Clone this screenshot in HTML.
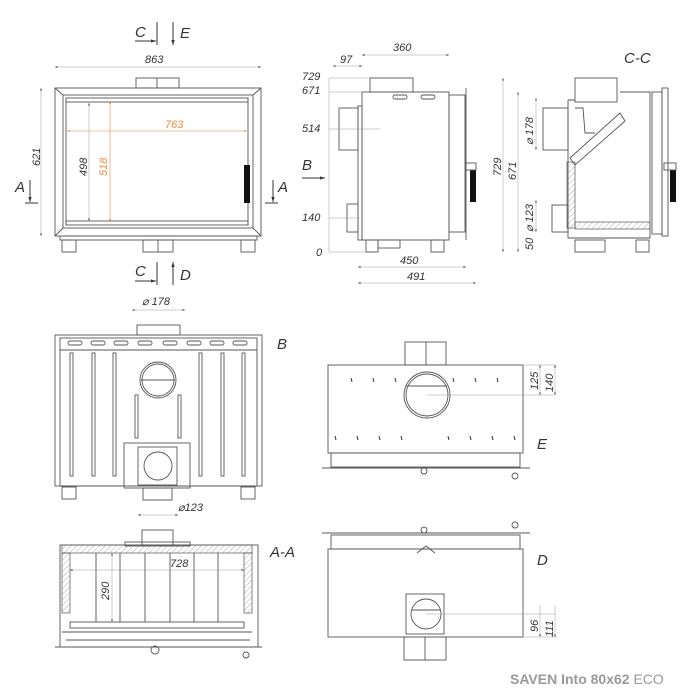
<!DOCTYPE html>
<html><head><meta charset="utf-8"><style>
html,body{margin:0;padding:0;background:#fff}
svg{display:block}
text{font-family:"Liberation Sans",sans-serif;font-style:italic;font-size:11px;fill:#333}
.l{fill:none;stroke:#555;stroke-width:.9}
.t{fill:none;stroke:#999;stroke-width:.5}
.o{fill:none;stroke:#f08a3c;stroke-width:.6}
.h{fill:url(#hat);stroke:#555;stroke-width:.7}
.big{font-size:15px}
</style></head><body>
<svg width="700" height="700" viewBox="0 0 700 700">
<defs>
<pattern id="hat" width="4" height="4" patternUnits="userSpaceOnUse" patternTransform="rotate(45)"><line x1="0" y1="0" x2="0" y2="4" stroke="#777" stroke-width=".6"/></pattern>
<marker id="a" viewBox="0 0 6 6" refX="6" refY="3" markerWidth="5" markerHeight="5" orient="auto-start-reverse"><path d="M0,1 L6,3 L0,5z" fill="#333"/></marker>
<marker id="ao" viewBox="0 0 6 6" refX="6" refY="3" markerWidth="5" markerHeight="5" orient="auto-start-reverse"><path d="M0,1 L6,3 L0,5z" fill="#f08a3c"/></marker>
</defs>

<!-- FRONT VIEW -->
<line class="t" x1="55" y1="67" x2="261" y2="67" marker-start="url(#a)" marker-end="url(#a)"/>
<text x="145" y="63">863</text>
<rect class="l" x="136" y="78" width="43" height="10"/><line class="l" x1="157" y1="78" x2="157" y2="88"/>
<rect class="l" x="55" y="88" width="206" height="148"/>
<rect class="l" x="63" y="95" width="190" height="133"/>
<line class="l" x1="55" y1="88" x2="63" y2="95"/><line class="l" x1="261" y1="88" x2="253" y2="95"/>
<line class="l" x1="55" y1="236" x2="63" y2="228"/><line class="l" x1="261" y1="236" x2="253" y2="228"/>
<rect class="l" x="66" y="98" width="182" height="4"/>
<rect class="l" x="66" y="221" width="182" height="4"/>
<line class="l" x1="66" y1="98" x2="66" y2="225"/><line class="l" x1="248" y1="98" x2="248" y2="225"/>
<rect x="244" y="165" width="6" height="38" fill="#111"/>
<rect class="l" x="60" y="236" width="197" height="4"/>
<rect class="l" x="62" y="240" width="14" height="12"/><rect class="l" x="241" y="240" width="14" height="12"/>
<rect class="l" x="143" y="240" width="30" height="12"/><line class="l" x1="158" y1="240" x2="158" y2="252"/>
<line class="t" x1="41" y1="88" x2="41" y2="236" marker-start="url(#a)" marker-end="url(#a)"/>
<text transform="translate(40,166) rotate(-90)">621</text>
<line class="t" x1="89" y1="103" x2="89" y2="221" marker-start="url(#a)" marker-end="url(#a)"/>
<text transform="translate(87,176) rotate(-90)">498</text>
<line class="o" x1="110" y1="101" x2="110" y2="222" marker-start="url(#ao)" marker-end="url(#ao)"/>
<text transform="translate(107,176) rotate(-90)" style="fill:#f08a3c">518</text>
<line class="o" x1="67" y1="131" x2="247" y2="131" marker-start="url(#ao)" marker-end="url(#ao)"/>
<text x="165" y="128" style="fill:#f08a3c">763</text>
<text x="15" y="192" class="big">A</text><line x1="25" y1="203" x2="38" y2="203" stroke="#333"/><line x1="30" y1="180" x2="30" y2="202" stroke="#333" marker-end="url(#a)"/>
<text x="278" y="192" class="big">A</text><line x1="265" y1="203" x2="278" y2="203" stroke="#333"/><line x1="273" y1="180" x2="273" y2="202" stroke="#333" marker-end="url(#a)"/>
<text x="135" y="37" class="big">C</text><line x1="157" y1="22" x2="157" y2="45" stroke="#333"/><line x1="135" y1="41" x2="156" y2="41" stroke="#333" marker-end="url(#a)"/>
<line x1="173" y1="22" x2="173" y2="45" stroke="#333" marker-end="url(#a)"/><text x="180" y="38" class="big">E</text>
<text x="135" y="276" class="big">C</text><line x1="157" y1="262" x2="157" y2="285" stroke="#333"/><line x1="135" y1="281" x2="156" y2="281" stroke="#333" marker-end="url(#a)"/>
<line x1="173" y1="285" x2="173" y2="262" stroke="#333" marker-end="url(#a)"/><text x="180" y="280" class="big">D</text>

<!-- SIDE VIEW -->
<line class="t" x1="362" y1="55" x2="449" y2="55" marker-start="url(#a)" marker-end="url(#a)"/><text x="393" y="51">360</text>
<line class="t" x1="333" y1="66" x2="362" y2="66" marker-start="url(#a)" marker-end="url(#a)"/><text x="340" y="63">97</text>
<rect class="l" x="370" y="78" width="43" height="14"/>
<rect class="l" x="362" y="92" width="87" height="148"/>
<rect class="l" x="358" y="106" width="4" height="134"/>
<rect class="l" x="449" y="95" width="16" height="137"/>
<line class="l" x1="466" y1="88" x2="466" y2="240"/>
<rect class="l" x="339" y="108" width="19" height="42"/>
<rect class="l" x="347" y="204" width="11" height="28"/>
<rect class="l" x="366" y="240" width="12" height="12"/><rect class="l" x="378" y="240" width="22" height="8"/><rect class="l" x="431" y="240" width="13" height="12"/>
<rect class="l" x="393" y="95" width="14" height="4" rx="2"/><rect class="l" x="421" y="95" width="14" height="4" rx="2"/>
<rect x="470" y="170" width="6" height="32" fill="#111"/><rect class="l" x="466" y="163" width="10" height="7"/>
<line class="t" x1="329" y1="78" x2="329" y2="252"/>
<g class="t"><line x1="329" y1="78" x2="370" y2="78"/><line x1="329" y1="92" x2="362" y2="92"/><line x1="329" y1="129" x2="380" y2="129"/><line x1="329" y1="218" x2="360" y2="218"/><line x1="329" y1="252" x2="366" y2="252"/></g>
<text x="302" y="80">729</text><text x="302" y="94">671</text><text x="302" y="132">514</text><text x="302" y="221">140</text><text x="316" y="256">0</text>
<text x="302" y="170" class="big">B</text><line x1="302" y1="178" x2="325" y2="178" stroke="#333" marker-end="url(#a)"/>
<line class="t" x1="358" y1="267" x2="466" y2="267" marker-start="url(#a)" marker-end="url(#a)"/><text x="400" y="264">450</text>
<line class="t" x1="358" y1="283" x2="476" y2="283" marker-start="url(#a)" marker-end="url(#a)"/><text x="407" y="280">491</text>

<!-- C-C -->
<text x="624" y="63" class="big">C-C</text>
<rect class="l" x="575" y="78" width="42" height="24"/>
<path class="l" d="M568,100 L568,238 L650,238 L650,92 L620,92 M568,100 L575,100"/>
<rect class="l" x="543" y="108" width="25" height="42"/>
<rect class="l" x="552" y="205" width="16" height="27"/>
<rect class="h" x="567" y="162" width="8" height="66"/>
<rect class="h" x="575" y="222" width="75" height="7"/>
<path class="l" d="M570,158 L620,113 L625,121 L575,165z"/>
<path class="l" d="M575,108 L583,108 L585,133 L595,133" />
<rect class="l" x="652" y="92" width="10" height="142"/><rect class="l" x="662" y="88" width="6" height="148"/>
<rect x="670" y="170" width="6" height="32" fill="#111"/><rect class="l" x="664" y="163" width="12" height="7"/>
<rect class="l" x="575" y="240" width="30" height="12"/><rect class="l" x="636" y="240" width="13" height="12"/>
<line class="t" x1="503" y1="78" x2="503" y2="252" marker-start="url(#a)" marker-end="url(#a)"/><text transform="translate(501,176) rotate(-90)">729</text>
<line class="t" x1="518" y1="92" x2="518" y2="252" marker-start="url(#a)" marker-end="url(#a)"/><text transform="translate(516,180) rotate(-90)">671</text>
<line class="t" x1="536" y1="98" x2="536" y2="150" marker-start="url(#a)" marker-end="url(#a)"/><text transform="translate(533,145) rotate(-90)">⌀ 178</text>
<line class="t" x1="536" y1="200" x2="536" y2="232" marker-start="url(#a)" marker-end="url(#a)"/><text transform="translate(533,232) rotate(-90)">⌀ 123</text>
<text transform="translate(533,250) rotate(-90)">50</text>

<!-- B VIEW -->
<line class="t" x1="132" y1="310" x2="185" y2="310" marker-start="url(#a)" marker-end="url(#a)"/><text x="142" y="305">⌀ 178</text>
<rect class="l" x="137" y="325" width="43" height="10"/>
<rect class="l" x="55" y="335" width="207" height="151"/><rect class="l" x="60" y="338" width="197" height="148"/>
<line class="l" x1="60" y1="350" x2="257" y2="350"/>
<g class="l"><rect x="68" y="341" width="14" height="4" rx="2"/><rect x="91" y="341" width="14" height="4" rx="2"/><rect x="114" y="341" width="14" height="4" rx="2"/><rect x="138" y="341" width="14" height="4" rx="2"/><rect x="163" y="341" width="14" height="4" rx="2"/><rect x="187" y="341" width="14" height="4" rx="2"/><rect x="210" y="341" width="14" height="4" rx="2"/><rect x="233" y="341" width="14" height="4" rx="2"/>
<rect x="70" y="353" width="3" height="123"/><rect x="92" y="353" width="3" height="123"/><rect x="113" y="353" width="3" height="123"/><rect x="199" y="353" width="3" height="123"/><rect x="221" y="353" width="3" height="123"/><rect x="242" y="353" width="3" height="123"/>
<rect x="135" y="395" width="3" height="43"/><rect x="178" y="395" width="3" height="43"/>
<circle cx="158" cy="380" r="18"/><circle cx="158" cy="380" r="16"/><line x1="141" y1="380" x2="175" y2="380"/>
<rect x="124" y="443" width="66" height="45"/><rect x="138" y="447" width="39" height="38"/><circle cx="158" cy="466" r="14"/>
<rect x="62" y="487" width="14" height="12"/><rect x="241" y="487" width="14" height="12"/><rect x="143" y="488" width="29" height="12"/></g>
<line class="t" x1="138" y1="515" x2="178" y2="515" marker-start="url(#a)" marker-end="url(#a)"/><text x="178" y="511">⌀123</text>
<text x="277" y="349" class="big">B</text>

<!-- A-A -->
<rect class="l" x="142" y="530" width="31" height="15"/><rect class="l" x="125" y="542" width="65" height="4"/>
<rect class="l" x="60" y="545" width="198" height="102"/>
<rect class="h" x="62" y="545" width="190" height="8"/>
<rect class="h" x="62" y="553" width="8" height="60"/><rect class="h" x="244" y="553" width="8" height="60"/>
<g class="l"><line x1="96" y1="553" x2="96" y2="622"/><line x1="120" y1="553" x2="120" y2="622"/><line x1="145" y1="553" x2="145" y2="622"/><line x1="170" y1="553" x2="170" y2="622"/><line x1="194" y1="553" x2="194" y2="622"/><line x1="218" y1="553" x2="218" y2="622"/>
<rect x="70" y="622" width="174" height="6"/><line x1="62" y1="632" x2="252" y2="632"/><line x1="66" y1="640" x2="250" y2="640"/><line x1="55" y1="647" x2="262" y2="647"/>
<circle cx="155" cy="650" r="4"/><circle cx="246" cy="655" r="3"/></g>
<line class="t" x1="70" y1="570" x2="244" y2="570" marker-start="url(#a)" marker-end="url(#a)"/><text x="170" y="567">728</text>
<line class="t" x1="112" y1="553" x2="112" y2="622" marker-start="url(#a)" marker-end="url(#a)"/><text transform="translate(109,600) rotate(-90)">290</text>
<text x="270" y="557" class="big">A-A</text>

<!-- E VIEW -->
<g class="l"><rect x="405" y="342" width="41" height="23"/><line x1="426" y1="342" x2="426" y2="365"/>
<rect x="328" y="365" width="195" height="88"/><circle cx="427" cy="395" r="23"/><circle cx="427" cy="395" r="21"/><line x1="406" y1="386" x2="447" y2="386"/>
<rect x="331" y="453" width="189" height="14"/><line x1="322" y1="468" x2="530" y2="468"/><circle cx="424" cy="471" r="3"/><circle cx="515" cy="476" r="3"/></g>
<g stroke="#333" stroke-width="1"><line x1="352" y1="382" x2="351" y2="378"/><line x1="374" y1="382" x2="373" y2="378"/><line x1="396" y1="382" x2="395" y2="378"/><line x1="453" y1="378" x2="454" y2="382"/><line x1="475" y1="378" x2="476" y2="382"/><line x1="497" y1="378" x2="498" y2="382"/>
<line x1="336" y1="440" x2="335" y2="436"/><line x1="358" y1="440" x2="357" y2="436"/><line x1="380" y1="440" x2="379" y2="436"/><line x1="402" y1="440" x2="401" y2="436"/><line x1="448" y1="436" x2="449" y2="440"/><line x1="470" y1="436" x2="471" y2="440"/><line x1="492" y1="436" x2="493" y2="440"/><line x1="514" y1="436" x2="515" y2="440"/></g>
<line class="t" x1="427" y1="395" x2="555" y2="395"/><line class="t" x1="523" y1="365" x2="557" y2="365"/>
<line class="t" x1="540" y1="365" x2="540" y2="395" marker-start="url(#a)" marker-end="url(#a)"/><text transform="translate(538,390) rotate(-90)">125</text>
<line class="t" x1="555" y1="365" x2="555" y2="395" marker-start="url(#a)" marker-end="url(#a)"/><text transform="translate(553,392) rotate(-90)">140</text>
<text x="537" y="449" class="big">E</text>

<!-- D VIEW -->
<g class="l"><line x1="322" y1="533" x2="530" y2="533"/><rect x="331" y="535" width="189" height="14"/><circle cx="424" cy="530" r="3"/><circle cx="515" cy="525" r="3"/>
<rect x="328" y="549" width="195" height="88"/><rect x="406" y="594" width="38" height="40"/><circle cx="426" cy="614" r="15"/><path d="M412,610 L440,610"/>
<path d="M417,553 L426,546 L435,553"/>
<rect x="404" y="637" width="42" height="23"/><line x1="425" y1="637" x2="425" y2="660"/></g>
<line class="t" x1="426" y1="614" x2="555" y2="614"/><line class="t" x1="523" y1="637" x2="557" y2="637"/>
<line class="t" x1="540" y1="605" x2="540" y2="637" marker-end="url(#a)"/><text transform="translate(538,632) rotate(-90)">96</text>
<line class="t" x1="555" y1="605" x2="555" y2="637" marker-end="url(#a)"/><text transform="translate(553,637) rotate(-90)">111</text>
<text x="537" y="565" class="big">D</text>

<text x="510" y="684" style="font-style:normal;font-size:14px;fill:#999;font-weight:bold">SAVEN Into 80x62 <tspan style="font-weight:normal">ECO</tspan></text>
</svg>
</body></html>
